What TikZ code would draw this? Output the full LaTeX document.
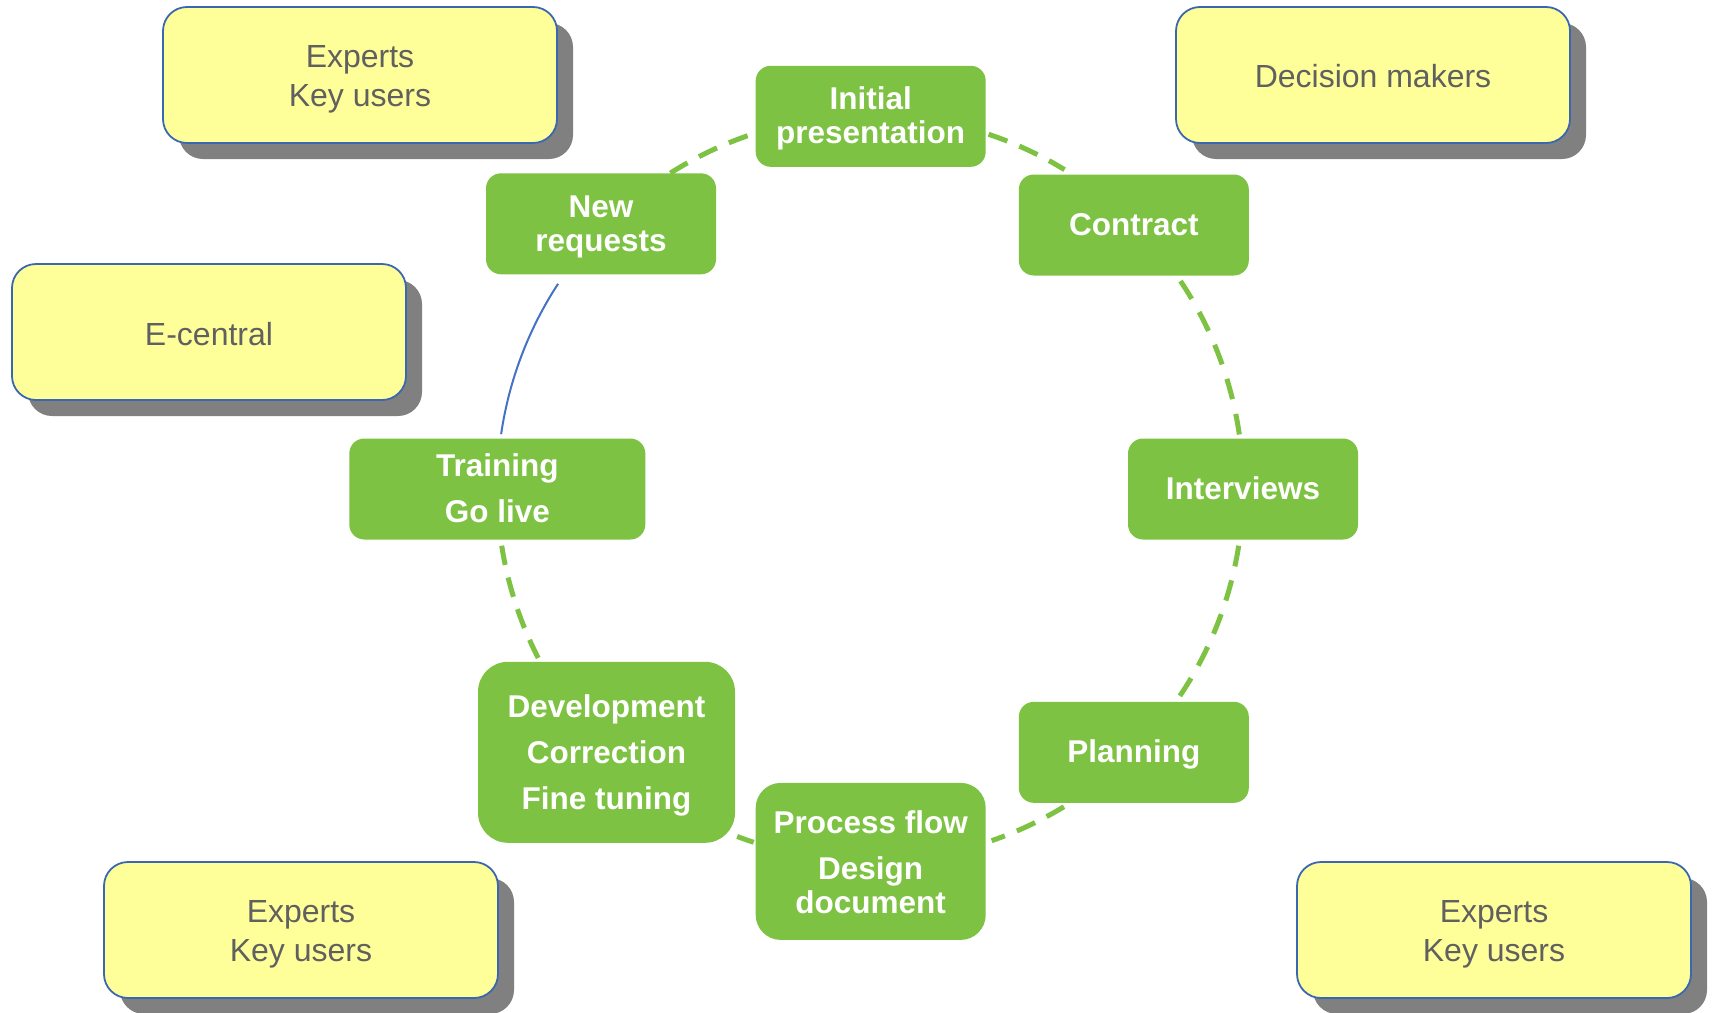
\documentclass[tikz,border=0pt]{standalone}
\usepackage{fontspec}
\setmainfont{Liberation Sans}
\usetikzlibrary{shadows}
\definecolor{gfill}{RGB}{125,194,66}
\definecolor{yfill}{RGB}{255,255,153}
\definecolor{yborder}{RGB}{58,104,176}
\definecolor{ytext}{RGB}{96,96,96}
\definecolor{shade}{RGB}{128,128,128}
\definecolor{bline}{RGB}{68,114,196}
\begin{document}
\begin{tikzpicture}[x=1pt,y=-1pt,
  ybox/.style={rounded corners=24pt, fill=yfill, draw=yborder, line width=1.8pt,
    minimum width=394pt, minimum height=136pt, inner sep=0pt,
    drop shadow={shadow xshift=16pt, shadow yshift=-16pt, fill=shade, opacity=1, draw=none}},
  ytxt/.style={align=center, inner sep=0pt, text=ytext, font=\fontsize{32}{39}\selectfont},
  gbox/.style={rounded corners=15pt, fill=gfill, inner sep=0pt,
    minimum width=230pt, minimum height=101pt},
  gtxt/.style={align=center, inner sep=0pt, text=white, font=\bfseries\fontsize{31.5}{34}\selectfont},
  gdash/.style={draw=gfill, line width=5pt, dash pattern=on 20pt off 13pt},
  bsolid/.style={draw=bline, line width=2pt}]
\useasboundingbox (0,0) rectangle (1712,1012);

% yellow boxes
\node[ybox, label={[ytxt, yshift=-4.4pt]center:{Experts\\Key users}}] (y1) at (360,75) {};
\node[ybox, label={[ytxt, yshift=-1pt]center:{Decision makers}}] (y2) at (1373,75) {};
\node[ybox, label={[ytxt, yshift=-2pt]center:{E-central}}] (y3) at (209,332) {};
\node[ybox, label={[ytxt, yshift=-4.4pt]center:{Experts\\Key users}}] (y4) at (301,930) {};
\node[ybox, label={[ytxt, yshift=-4.4pt]center:{Experts\\Key users}}] (y5) at (1494,930) {};

% green boxes
\node[gbox, label={[gtxt, yshift=-2.2pt]center:{Initial\\presentation}}] (ip) at (870.7,116.3) {};
\node[gbox, label={[gtxt, yshift=-2.7pt]center:{New\\requests}}] (nr) at (601,223.8) {};
\node[gbox, label={[gtxt]center:{Contract}}] (ct) at (1133.8,225) {};
\node[gbox, label={[gtxt, yshift=1pt]center:{Interviews}}] (iv) at (1243,489) {};
\node[gbox, minimum width=296pt, label={[gtxt, yshift=1pt]center:{Training\\[12pt]Go live}}] (tr) at (497.3,489) {};
\node[gbox, label={[gtxt, yshift=-2pt]center:{Planning}}] (pl) at (1133.8,752.3) {};
\node[gbox, minimum width=257pt, minimum height=181pt, rounded corners=30pt,
  label={[gtxt, yshift=-2.7pt]center:{Development\\[12pt]Correction\\[12pt]Fine tuning}}] (dev) at (606.5,752.3) {};
\node[gbox, minimum height=157pt, rounded corners=25pt,
  label={[gtxt, yshift=-0.5pt]center:{Process flow\\[12pt]Design\\document}}] (pf) at (870.7,861.4) {};

% circle connectors
\coordinate (O) at (870.2,488);
\def\R{373}
\draw[gdash] ([shift={(237.6:\R)}]O) arc[start angle=237.6, end angle=251.6, radius=\R];
\draw[gdash] ([shift={(288.5:\R)}]O) arc[start angle=288.5, end angle=301.4, radius=\R];
\draw[gdash, dash pattern=on 21pt off 15.2pt] ([shift={(326.3:\R)}]O) arc[start angle=326.3, end angle=351.75, radius=\R];
\draw[gdash, dash pattern=on 21pt off 14.4pt] ([shift={(8.9:\R)}]O) arc[start angle=8.9, end angle=33.9, radius=\R];
\draw[gdash] ([shift={(58.7:\R)}]O) arc[start angle=58.7, end angle=71.0, radius=\R];
\draw[gdash] ([shift={(108.2:\R)}]O) arc[start angle=108.2, end angle=110.9, radius=\R];
\draw[gdash] ([shift={(152.9:\R)}]O) arc[start angle=152.9, end angle=171.1, radius=\R];
\draw[bsolid] ([shift={(188.3:\R)}]O) arc[start angle=188.3, end angle=213.2, radius=\R];
\end{tikzpicture}
\end{document}
